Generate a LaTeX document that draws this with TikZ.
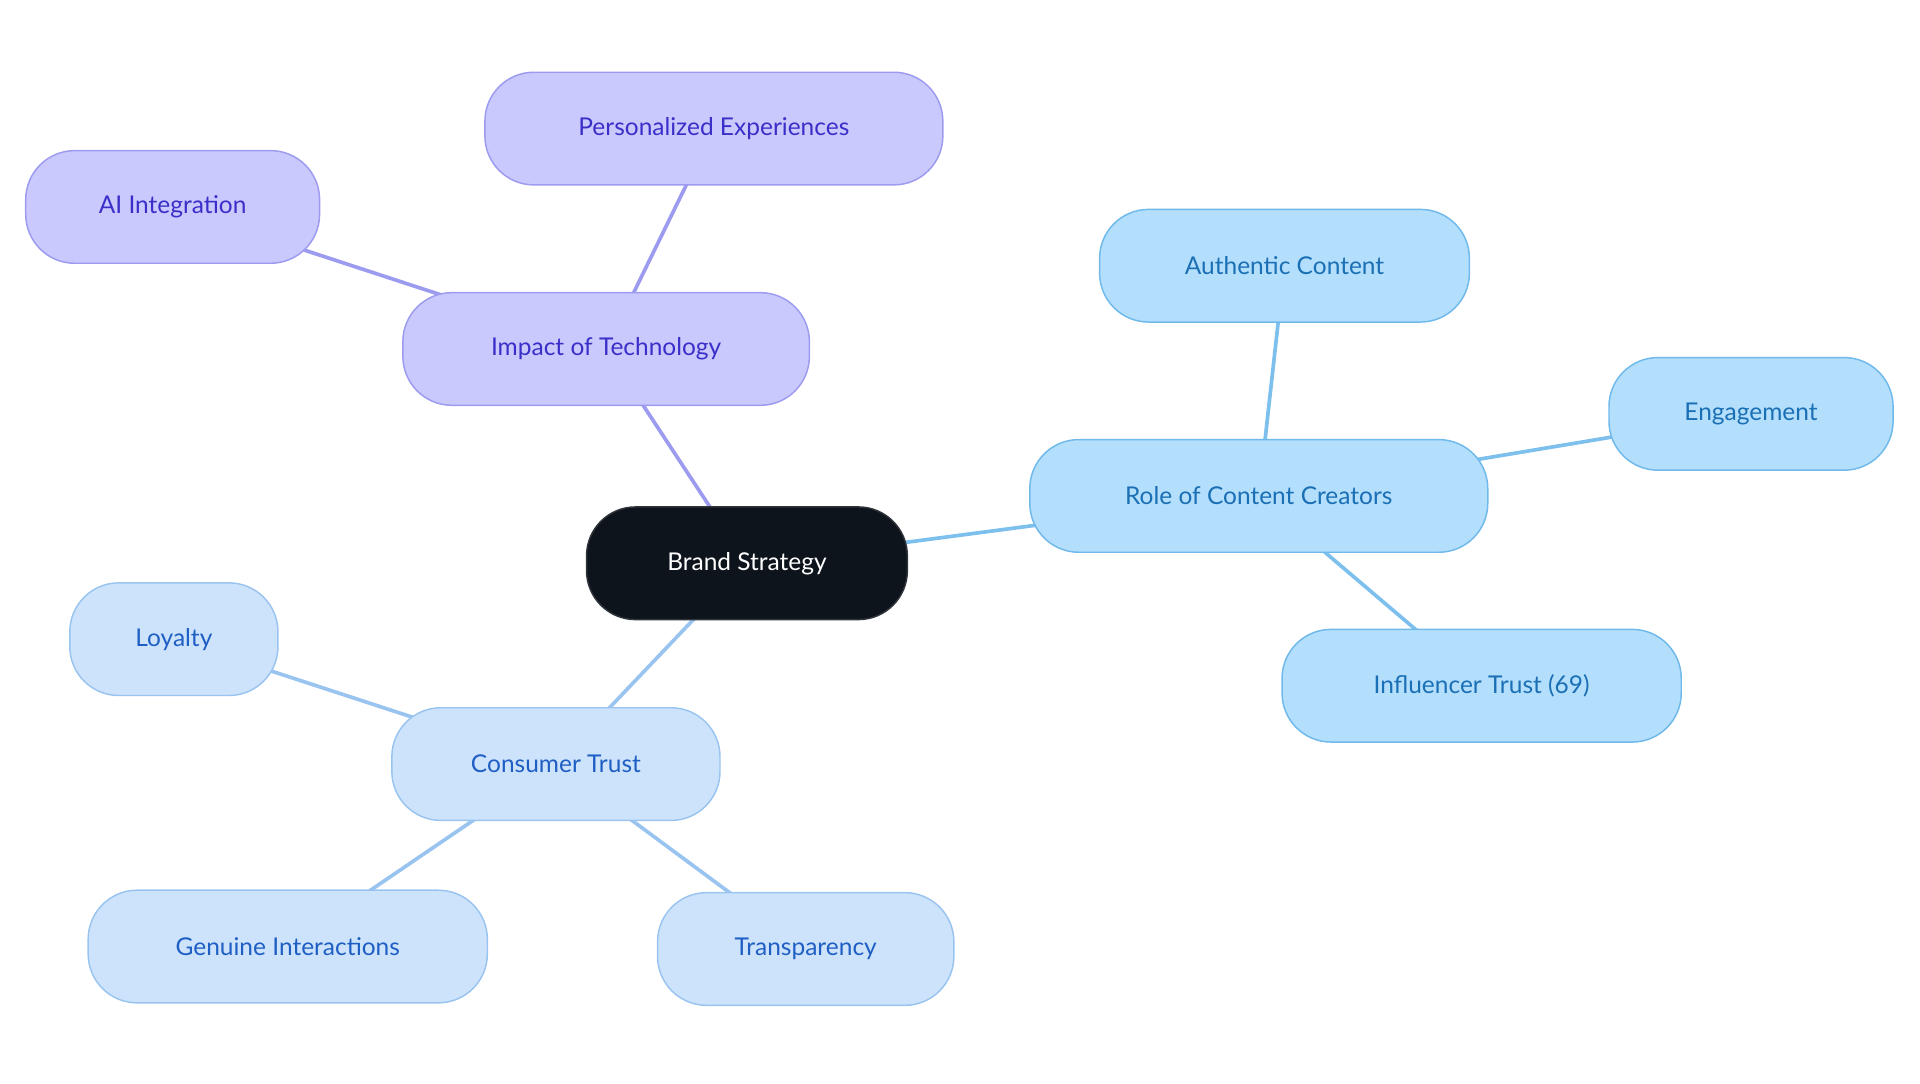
\documentclass[tikz,border=0pt]{standalone}
\usepackage{fontspec}
\setmainfont{Lato}
\usetikzlibrary{backgrounds}
\definecolor{dk}{HTML}{0D141C}
\definecolor{tf}{HTML}{C9C9FD}\definecolor{td}{HTML}{9C9BEF}\definecolor{tt}{HTML}{3B2FC9}
\definecolor{cf}{HTML}{B3DFFC}\definecolor{cd}{HTML}{6FB9EB}\definecolor{ct}{HTML}{1A6FB5}
\definecolor{sf}{HTML}{CDE3FB}\definecolor{sd}{HTML}{9AC4F0}\definecolor{st}{HTML}{1F5FC4}
\begin{document}
\begin{tikzpicture}[x=1pt,y=-1pt,
 box/.style={rounded corners=40pt,minimum height=92pt,line width=1.2pt,font=\fontsize{20}{24}\selectfont,inner sep=0pt},
 tech/.style={box,fill=tf,draw=td,text=tt},
 cont/.style={box,fill=cf,draw=cd,text=ct},
 cons/.style={box,fill=sf,draw=sd,text=st},
 ln/.style={line width=3pt}]
\useasboundingbox (0,0) rectangle (1568,885);
\node[box,fill=dk,draw=dk!70!gray,text=white,minimum width=262pt] (b) at (610,460) {Brand Strategy};
\node[tech,minimum width=332pt] (t) at (495,285) {Impact of Technology};
\node[tech,minimum width=374pt] (t1) at (583,105) {Personalized Experiences};
\node[tech,minimum width=240pt] (t2) at (141,169) {AI Integration};
\node[cont,minimum width=374pt] (c) at (1028,405) {Role of Content Creators};
\node[cont,minimum width=302pt] (c1) at (1049,217) {Authentic Content};
\node[cont,minimum width=232pt] (c2) at (1430,338) {Engagement};
\node[cont,minimum width=326pt] (c3) at (1210,560) {Influencer Trust (69)};
\node[cons,minimum width=268pt] (s) at (454,624) {Consumer Trust};
\node[cons,minimum width=170pt] (s1) at (142,522) {Loyalty};
\node[cons,minimum width=326pt] (s2) at (235,773) {Genuine Interactions};
\node[cons,minimum width=242pt] (s3) at (658,775) {Transparency};
\begin{scope}[on background layer]
\draw[ln,td] (b.center)--(t.center) (t.center)--(t1.center) (t.center)--(t2.center);
\draw[ln,cd!90] (b.center)--(c.center) (c.center)--(c1.center) (c.center)--(c2.center) (c.center)--(c3.center);
\draw[ln,sd] (b.center)--(s.center) (s.center)--(s1.center) (s.center)--(s2.center) (s.center)--(s3.center);
\end{scope}
\end{tikzpicture}
\end{document}
